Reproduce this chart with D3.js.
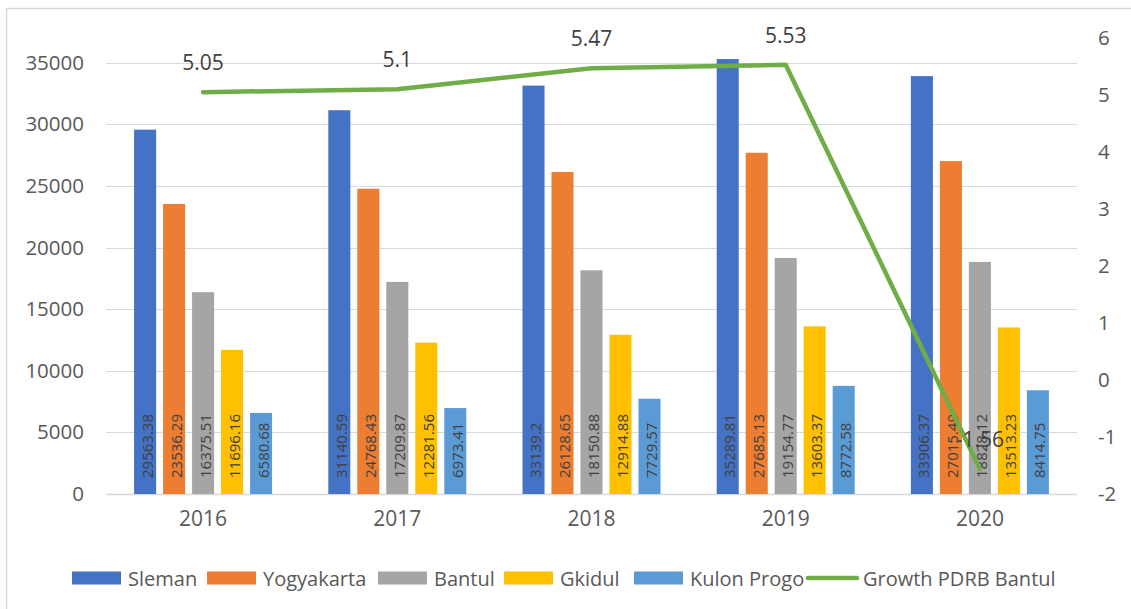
<!DOCTYPE html>
<html>
<head>
<meta charset="utf-8">
<script src="https://cdn.jsdelivr.net/npm/d3@7"></script>
<style>
  html, body { margin: 0; padding: 0; background: #fff; }
  svg { display: block; font-family: "Open Sans", "Noto Sans", sans-serif; }
</style>
</head>
<body>
<svg id="chart" width="1131" height="609"></svg>
<script>
// PDRB per kabupaten/kota (bars, left axis) and Bantul growth (line, right axis)
const years = ["2016", "2017", "2018", "2019", "2020"];
const seriesNames = ["Sleman", "Yogyakarta", "Bantul", "Gkidul", "Kulon Progo"];
const sleman     = [29563.38, 31140.59, 33139.2, 35289.81, 33906.37];
const yogyakarta = [23536.29, 24768.43, 26128.65, 27685.13, 27015.49];
const bantul     = [16375.51, 17209.87, 18150.88, 19154.77, 18828.12];
const gkidul     = [11696.16, 12281.56, 12914.88, 13603.37, 13513.23];
const kulonProgo = [6580.68, 6973.41, 7729.57, 8772.58, 8414.75];
const growthName = "Growth PDRB Bantul";
const growth     = [5.05, 5.1, 5.47, 5.53, -1.56];
const leftTicks  = [0, 5000, 10000, 15000, 20000, 25000, 30000, 35000];
const rightTicks = [-2, -1, 0, 1, 2, 3, 4, 5, 6];

const colors = ["#4472C4", "#ED7D31", "#A5A5A5", "#FFC000", "#5B9BD5"];
const lineColor = "#70AD47";
const barSeries = [sleman, yogyakarta, bantul, gkidul, kulonProgo];

const svg = d3.select("#chart");
const plot = { left: 106, right: 1077, top: 38, bottom: 494 };
const tickFont = 20.5;

// outer chart frame
svg.append("rect")
  .attr("x", 6.5).attr("y", 8.5).attr("width", 1140).attr("height", 620)
  .attr("fill", "none").attr("stroke", "#D9D9D9").attr("stroke-width", 1.5);

const x = d3.scaleBand().domain(years).range([plot.left, plot.right]);
const xInner = d3.scaleBand().domain(seriesNames)
  .range([x.bandwidth() / 2 - 69, x.bandwidth() / 2 + 69])
  .paddingInner(0.24);
const yLeft = d3.scaleLinear().domain([0, 37000]).range([plot.bottom, plot.top]);
const yRight = d3.scaleLinear().domain([-2, 6]).range([plot.bottom, plot.top]);

// gridlines on left-axis ticks
svg.append("g").selectAll("line").data(leftTicks).join("line")
  .attr("x1", plot.left).attr("x2", plot.right)
  .attr("y1", d => Math.round(yLeft(d)) + 0.5).attr("y2", d => Math.round(yLeft(d)) + 0.5)
  .attr("stroke", "#D9D9D9").attr("stroke-width", d => d === 0 ? 1.5 : 1.2);

// left axis
const axL = svg.append("g").attr("transform", `translate(${plot.left - 22},0)`)
  .call(d3.axisLeft(yLeft).tickValues(leftTicks).tickSize(0).tickPadding(0).tickFormat(d => String(d)));
axL.select(".domain").remove();
axL.selectAll("text").attr("font-size", tickFont).attr("fill", "#595959")
  .attr("font-family", "'Open Sans', sans-serif");

// right axis
const axR = svg.append("g").attr("transform", `translate(${plot.right + 21},0)`)
  .call(d3.axisRight(yRight).tickValues(rightTicks).tickSize(0).tickPadding(0).tickFormat(d => String(d)));
axR.select(".domain").remove();
axR.selectAll("text").attr("font-size", tickFont).attr("fill", "#595959")
  .attr("font-family", "'Open Sans', sans-serif");

// category axis
const axB = svg.append("g").attr("transform", `translate(0,${plot.bottom + 17})`)
  .call(d3.axisBottom(x).tickSize(0).tickPadding(0));
axB.select(".domain").remove();
axB.selectAll("text").attr("font-size", 21).attr("fill", "#595959")
  .attr("font-family", "'Open Sans', sans-serif").attr("dy", "0.71em");

// bars
const groups = svg.append("g").selectAll("g").data(years).join("g")
  .attr("transform", d => `translate(${x(d)},0)`);

seriesNames.forEach((name, si) => {
  const vals = barSeries[si];
  groups.append("rect")
    .attr("x", (d, i) => xInner(name))
    .attr("width", xInner.bandwidth())
    .attr("y", (d, i) => yLeft(vals[i]))
    .attr("height", (d, i) => yLeft(0) - yLeft(vals[i]))
    .attr("fill", colors[si]);
});

// rotated value labels at the base of each bar
seriesNames.forEach((name, si) => {
  const vals = barSeries[si];
  groups.append("text")
    .attr("transform", (d, i) =>
      `translate(${xInner(name) + xInner.bandwidth() / 2 + 1.5},${yLeft(0) - 16}) rotate(-90)`)
    .attr("dominant-baseline", "central")
    .attr("font-size", 15)
    .attr("fill", "#404040")
    .text((d, i) => String(vals[i]));
});

// growth line
const lineGen = d3.line()
  .x((d, i) => x(years[i]) + x.bandwidth() / 2)
  .y(d => yRight(d));
svg.append("path").datum(growth)
  .attr("d", lineGen)
  .attr("fill", "none").attr("stroke", lineColor)
  .attr("stroke-width", 4.5).attr("stroke-linecap", "round").attr("stroke-linejoin", "round");

svg.append("g").selectAll("text").data(growth).join("text")
  .attr("x", (d, i) => x(years[i]) + x.bandwidth() / 2)
  .attr("y", d => yRight(d) - 30)
  .attr("text-anchor", "middle")
  .attr("dominant-baseline", "central")
  .attr("font-size", 21)
  .attr("fill", "#404040")
  .text(d => String(d));

// legend
const legendY = 578;
const legendItems = [
  { name: "Sleman", x: 72, color: colors[0] },
  { name: "Yogyakarta", x: 207, color: colors[1] },
  { name: "Bantul", x: 378, color: colors[2] },
  { name: "Gkidul", x: 504, color: colors[3] },
  { name: "Kulon Progo", x: 634, color: colors[4] }
];
const lg = svg.append("g");
legendItems.forEach(it => {
  lg.append("rect").attr("x", it.x).attr("y", legendY - 6.5)
    .attr("width", 49).attr("height", 13).attr("fill", it.color);
  lg.append("text").attr("x", it.x + 56).attr("y", legendY)
    .attr("dominant-baseline", "central").attr("font-size", 20).attr("fill", "#595959")
    .text(it.name);
});
lg.append("line").attr("x1", 808).attr("x2", 857).attr("y1", legendY).attr("y2", legendY)
  .attr("stroke", lineColor).attr("stroke-width", 4.5).attr("stroke-linecap", "round");
lg.append("text").attr("x", 863).attr("y", legendY)
  .attr("dominant-baseline", "central").attr("font-size", 20).attr("fill", "#595959")
  .text(growthName);
</script>
</body>
</html>
